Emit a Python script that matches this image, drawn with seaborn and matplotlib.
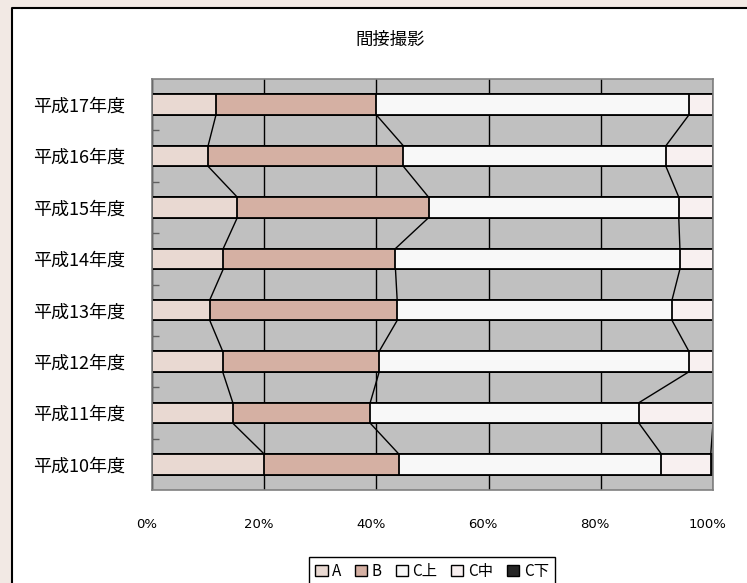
import numpy as np
import pandas as pd
import matplotlib
matplotlib.use('Agg')
import matplotlib.pyplot as plt
import matplotlib.transforms as mtransforms
from matplotlib.patches import Patch, Rectangle
from matplotlib.lines import Line2D
import seaborn as sns

# data (percent of each year)
years = ['平成17年度', '平成16年度', '平成15年度', '平成14年度',
         '平成13年度', '平成12年度', '平成11年度', '平成10年度']
a_vals = [11.4, 10.0, 15.2, 12.7, 10.3, 12.6, 14.4, 20.0]
b_vals = [28.6, 34.8, 34.1, 30.7, 33.4, 27.9, 24.5, 24.0]
c_up_vals = [55.7, 46.8, 44.6, 50.7, 49.0, 55.2, 47.9, 46.8]
c_mid_vals = [4.3, 8.4, 6.1, 5.9, 7.3, 4.3, 13.2, 8.8]
c_low_vals = [0.0, 0.0, 0.0, 0.0, 0.0, 0.0, 0.0, 0.4]

series_names = ['A', 'B', 'C上', 'C中', 'C下']
series_colors = ['#e9d9d2', '#d5b0a3', '#f8f8f8', '#f8f0f0', '#262626']

df = pd.DataFrame({'year': years, 'A': a_vals, 'B': b_vals, 'C上': c_up_vals,
                   'C中': c_mid_vals, 'C下': c_low_vals})
cum = df[series_names].cumsum(axis=1)
cum = cum.div(cum['C下'], axis=0) * 100

plt.rcParams['font.family'] = ['Noto Sans CJK JP', 'DejaVu Sans']

fig = plt.figure(figsize=(7.47, 5.83), dpi=100)
fig.patch.set_facecolor('#f2e9e4')
# white chart panel, border only on the left and top
x0, y0 = 12 / 747, 1 - 8 / 583
fig.patches.append(Rectangle((x0, 0), 1 - x0, y0, transform=fig.transFigure,
                             facecolor='white', edgecolor='none', zorder=-1))
fig.lines.append(Line2D([x0, x0, 1], [0, y0, y0], transform=fig.transFigure,
                        color='black', lw=1.5))

ax = fig.add_axes([152 / 747, 1 - 490 / 583, 561 / 747, 411 / 583])
ax.set_facecolor('#c0c0c0')

bar_h = 0.4
# stacked bars: draw cumulative totals from the largest down
for name, col in zip(series_names[::-1], series_colors[::-1]):
    sns.barplot(x=cum[name].values, y=df['year'], orient='h', color=col,
                saturation=1, edgecolor='black', linewidth=1.3,
                width=bar_h, ax=ax, zorder=3)

# series lines between neighbouring bars
pos = np.arange(len(years))
for name in series_names[:-1]:
    vals = cum[name].values
    for i in range(len(years) - 1):
        ax.plot([vals[i], vals[i + 1]], [pos[i] + bar_h / 2, pos[i + 1] - bar_h / 2],
                color='black', lw=1, zorder=4)

ax.set_xlim(0, 100)
ax.set_ylim(len(years) - 0.5, -0.5)
ax.set_xticks([0, 20, 40, 60, 80, 100])
ax.set_xticklabels(['0%', '20%', '40%', '60%', '80%', '100%'], fontsize=9.5,
                   family='DejaVu Sans')
ax.set_xlabel('')
ax.set_ylabel('')
ax.xaxis.grid(True, color='black', lw=1)
ax.set_axisbelow(True)
ax.tick_params(axis='x', length=0, pad=20)
ax.tick_params(axis='y', which='major', length=0, pad=19.5, labelsize=13)
ax.set_yticks(pos[:-1] + 0.5, minor=True)
ax.tick_params(axis='y', which='minor', direction='in', length=5, width=1,
               color='#606060')
for lab in ax.get_xticklabels():
    lab.set_transform(lab.get_transform() +
                      mtransforms.ScaledTranslation(-4 / 72, 0, fig.dpi_scale_trans))
for s in ax.spines.values():
    s.set_color('#808080')
    s.set_linewidth(1.2)
    s.set_zorder(5)

fig.text(390 / 747, 1 - 40 / 583, '間接撮影', ha='center', va='center', fontsize=12.5)

handles = [Patch(facecolor=c, edgecolor='black', linewidth=1) for c in series_colors]
leg = fig.legend(handles, series_names, loc='upper center', ncol=5,
                 bbox_to_anchor=(432 / 747, 1 - 549 / 583), fontsize=11,
                 handlelength=0.8, handleheight=0.8, handletextpad=0.3,
                 columnspacing=0.9, fancybox=False, framealpha=1,
                 edgecolor='black', borderpad=0.4)
leg.get_frame().set_linewidth(1)

fig.savefig('out.png', dpi=100, facecolor=fig.get_facecolor())
